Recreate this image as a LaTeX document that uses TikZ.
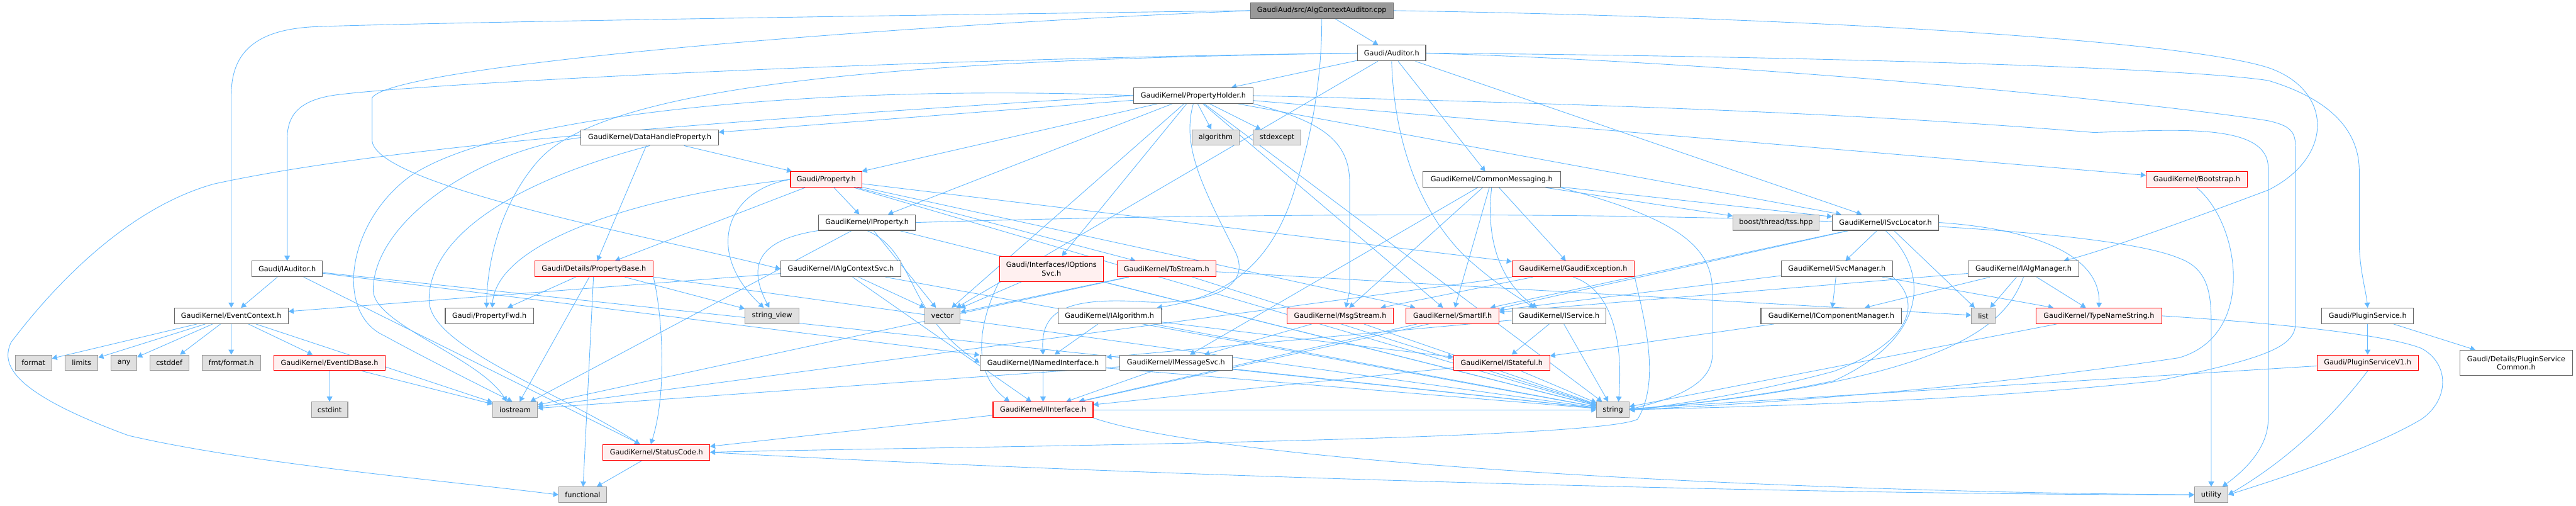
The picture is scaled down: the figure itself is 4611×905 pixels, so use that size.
\documentclass[tikz,border=0pt]{standalone}
\usepackage{fontspec}
\setmainfont{DejaVu Sans}
\usepackage{xcolor}
\usepackage{tikz}
\usetikzlibrary{arrows.meta,backgrounds}
\definecolor{edgeblue}{HTML}{63B8FF}
\definecolor{boxline}{HTML}{666666}
\definecolor{sysfill}{HTML}{E0E0E0}
\definecolor{sysline}{HTML}{999999}
\definecolor{redfill}{HTML}{FFF0F0}
\definecolor{redline}{HTML}{FF0000}
\definecolor{rootfill}{HTML}{999999}
\newcommand{\dxfont}{\fontsize{12.7}{15}\selectfont}

\begin{document}
\begin{tikzpicture}[
  x=1pt, y=-1pt,
  hdr/.style={draw=boxline, fill=white, line width=1.2pt, minimum height=28pt,
              inner sep=2pt, align=center, font=\dxfont},
  redh/.style={hdr, draw=redline, fill=redfill},
  sysh/.style={hdr, draw=sysline, fill=sysfill},
  rooth/.style={hdr, draw=boxline, fill=rootfill},
  arr/.style={draw=edgeblue, line width=1pt, -{Triangle[length=9pt,width=10pt]}},
]
\useasboundingbox (0,0) rectangle (4611,905);

% Row 1 -- source file
\node[rooth, minimum width=256pt] (root) at (2366,19) {GaudiAud/src/AlgContextAuditor.cpp};

% Row 2-3
\node[hdr, minimum width=122pt] (auditor) at (2491,95) {Gaudi/Auditor.h};
\node[hdr, minimum width=213pt] (propholder) at (2136,171) {GaudiKernel/PropertyHolder.h};

% Row 4
\node[hdr, minimum width=246pt] (dhprop) at (1163,246) {GaudiKernel/DataHandleProperty.h};
\node[sysh, minimum width=85pt] (algorithmh) at (2176,246) {algorithm};
\node[sysh, minimum width=86pt] (stdexcepth) at (2286,246) {stdexcept};

% Row 5
\node[redh, minimum width=128pt] (property) at (1479,321) {Gaudi/Property.h};
\node[hdr, minimum width=246pt] (commonmsg) at (2670,321) {GaudiKernel/CommonMessaging.h};
\node[redh, minimum width=181pt] (bootstrap) at (3932,321) {GaudiKernel/Bootstrap.h};

% Row 6
\node[hdr, minimum width=174pt] (iproperty) at (1552,398) {GaudiKernel/IProperty.h};
\node[sysh, minimum width=154pt] (tss) at (3179,398) {boost/thread/tss.hpp};
\node[hdr, minimum width=190pt] (svcloc) at (3375,398) {GaudiKernel/ISvcLocator.h};

% Row 7
\node[hdr, minimum width=126pt] (iauditor) at (514,481) {Gaudi/IAuditor.h};
\node[redh, minimum width=212pt] (propbase) at (1063,481) {Gaudi/Details/PropertyBase.h};
\node[hdr, minimum width=215pt] (algctxsvc) at (1505,481) {GaudiKernel/IAlgContextSvc.h};
\node[redh, minimum width=186pt, minimum height=45pt] (optsvc) at (1882,481) {Gaudi/Interfaces/IOptions\\Svc.h};
\node[redh, minimum width=177pt] (tostream) at (2088,481) {GaudiKernel/ToStream.h};
\node[redh, minimum width=219pt] (gexcept) at (2816,481) {GaudiKernel/GaudiException.h};
\node[hdr, minimum width=199pt] (svcmgr) at (3288,481) {GaudiKernel/ISvcManager.h};
\node[hdr, minimum width=198pt] (algmgr) at (3622,481) {GaudiKernel/IAlgManager.h};

% Row 8
\node[hdr, minimum width=204pt] (evtctx) at (414,565) {GaudiKernel/EventContext.h};
\node[hdr, minimum width=158pt] (propfwd) at (876,565) {Gaudi/PropertyFwd.h};
\node[sysh, minimum width=97pt] (strview) at (1382,565) {string\_view};
\node[sysh, minimum width=63pt] (vectorh) at (1687,565) {vector};
\node[hdr, minimum width=185pt] (ialg) at (1986,565) {GaudiKernel/IAlgorithm.h};
\node[redh, minimum width=190pt] (msgstream) at (2399,565) {GaudiKernel/MsgStream.h};
\node[redh, minimum width=166pt] (smartif) at (2600,565) {GaudiKernel/SmartIF.h};
\node[hdr, minimum width=168pt] (iservice) at (2791,565) {GaudiKernel/IService.h};
\node[hdr, minimum width=252pt] (compmgr) at (3278,565) {GaudiKernel/IComponentManager.h};
\node[sysh, minimum width=42pt] (listh) at (3550,565) {list};
\node[redh, minimum width=225pt] (typename) at (3757,565) {GaudiKernel/TypeNameString.h};
\node[hdr, minimum width=164pt] (plugsvc) at (4238,565) {Gaudi/PluginService.h};

% Row 9
\node[sysh, minimum width=65pt] (formath) at (60,649) {format};
\node[sysh, minimum width=59pt] (limitsh) at (146,649) {limits};
\node[sysh, minimum width=46pt] (anyh) at (222,649) {any};
\node[sysh, minimum width=70pt] (cstddefh) at (303,649) {cstddef};
\node[sysh, minimum width=105pt] (fmtformat) at (414,649) {fmt/format.h};
\node[redh, minimum width=200pt] (evtidbase) at (590,649) {GaudiKernel/EventIDBase.h};
\node[hdr, minimum width=226pt] (namedif) at (1867,649) {GaudiKernel/INamedInterface.h};
\node[hdr, minimum width=201pt] (msgsvc) at (2105,649) {GaudiKernel/IMessageSvc.h};
\node[redh, minimum width=172pt] (istateful) at (2688,649) {GaudiKernel/IStateful.h};
\node[redh, minimum width=181pt] (plugsvcv1) at (4238,649) {Gaudi/PluginServiceV1.h};
\node[hdr, minimum width=202pt, minimum height=45pt] (plugcommon) at (4504,649) {Gaudi/Details/PluginService\\Common.h};

% Row 10
\node[sysh, minimum width=65pt] (cstdinth) at (590,733) {cstdint};
\node[sysh, minimum width=80pt] (iostreamh) at (922,733) {iostream};
\node[redh, minimum width=179pt] (iinterface) at (1867,733) {GaudiKernel/IInterface.h};
\node[sysh, minimum width=58pt] (stringh) at (2887,733) {string};

% Row 11-12
\node[redh, minimum width=191pt] (statuscode) at (1175,809) {GaudiKernel/StatusCode.h};
\node[sysh, minimum width=86pt] (functionalh) at (1043,885) {functional};
\node[sysh, minimum width=60pt] (utilityh) at (3958,885) {utility};

\begin{scope}[on background layer]
% Connections (straight)
\foreach \s/\t in {root/auditor,
  auditor/propholder, auditor/commonmsg, auditor/svcloc, auditor/vectorh,
  propholder/algorithmh, propholder/stdexcepth, propholder/optsvc, propholder/dhprop,
  propholder/property, propholder/iproperty, propholder/bootstrap, propholder/svcloc,
  propholder/stringh, propholder/smartif, propholder/vectorh,
  dhprop/property, dhprop/propbase,
  property/iproperty, property/propbase, property/tostream, property/gexcept,
  property/smartif, property/stringh,
  iproperty/vectorh, iproperty/iostreamh, iproperty/stringh,
  iauditor/evtctx, iauditor/namedif, iauditor/stringh, iauditor/statuscode,
  evtctx/formath, evtctx/limitsh, evtctx/anyh, evtctx/cstddefh, evtctx/fmtformat,
  evtctx/evtidbase, evtctx/iostreamh,
  evtidbase/cstdinth, evtidbase/iostreamh,
  propbase/propfwd, propbase/iostreamh, propbase/functionalh, propbase/strview, propbase/stringh,
  algctxsvc/evtctx, algctxsvc/vectorh, algctxsvc/iinterface, algctxsvc/stringh,
  optsvc/vectorh, optsvc/stringh,
  tostream/iostreamh, tostream/vectorh, tostream/stringh, tostream/listh,
  gexcept/msgstream, gexcept/iostreamh,
  svcloc/svcmgr, svcloc/smartif, svcloc/iinterface, svcloc/listh,
  svcmgr/compmgr, svcmgr/smartif, svcmgr/typename,
  algmgr/listh, algmgr/typename, algmgr/compmgr, algmgr/smartif,
  commonmsg/msgstream, commonmsg/msgsvc, commonmsg/smartif, commonmsg/gexcept,
  commonmsg/tss, commonmsg/svcloc,
  ialg/namedif, ialg/istateful, ialg/stringh,
  msgstream/msgsvc, msgstream/stringh,
  smartif/iinterface,
  iservice/istateful, iservice/stringh, iservice/namedif,
  compmgr/istateful,
  istateful/iinterface, istateful/stringh,
  namedif/iinterface, namedif/stringh,
  msgsvc/iinterface, msgsvc/stringh, msgsvc/iostreamh,
  iinterface/statuscode, iinterface/stringh,
  statuscode/functionalh,
  typename/stringh,
  plugsvc/plugsvcv1, plugsvc/plugcommon,
  plugsvcv1/stringh}
  { \draw[arr] (\s) -- (\t); }

% Connections (routed)
\draw[arr] (root.west) .. controls (1400,30) and (700,42) .. (560,48) .. controls (450,54) and (414,100) .. (414,170) -- (evtctx.north);
\draw[arr] (root.west) .. controls (1500,50) and (700,120) .. (666,175) -- (666,250) .. controls (666,330) and (1150,420) .. (algctxsvc.west);
\draw[arr] (root.east) .. controls (3200,30) and (3900,70) .. (4060,121) .. controls (4175,160) and (4180,280) .. (4060,340) .. controls (3900,400) and (3760,450) .. ([xshift=72pt]algmgr.north);
\draw[arr] (root.south) .. controls (2366,150) and (2345,250) .. (2320,330) .. controls (2280,470) and (2200,530) .. ([xshift=85pt]ialg.north);

\draw[arr] (auditor.west) .. controls (1600,105) and (750,150) .. (600,170) .. controls (530,180) and (514,210) .. (514,250) -- (iauditor.north);
\draw[arr] (auditor.west) .. controls (1800,105) and (1100,130) .. (963,288) .. controls (900,360) and (872,460) .. ([xshift=-5pt]propfwd.north);
\draw[arr] (auditor.south) .. controls (2495,250) and (2540,380) .. (2626,462) .. controls (2680,510) and (2715,530) .. ([xshift=-45pt]iservice.north);
\draw[arr] (auditor.east) .. controls (3200,100) and (3900,120) .. (4060,144) .. controls (4180,180) and (4223,240) .. (4223,306) -- (4223,433) .. controls (4223,480) and (4235,520) .. (plugsvc.north);
\draw[arr] (auditor.east) .. controls (3200,115) and (3900,190) .. (4060,216) .. controls (4100,225) and (4109,235) .. (4109,265) -- (4109,577) .. controls (4109,620) and (4060,640) .. (3863,681) .. controls (3500,720) and (3100,728) .. (stringh.east);

\draw[arr] (propholder.south east) .. controls (2380,220) and (2416,260) .. (2416,330) -- (2416,520) -- ([xshift=10pt]msgstream.north);
\draw[arr] (propholder.south) .. controls (2115,260) and (2150,330) .. (2211,450) .. controls (2245,520) and (2150,545) .. (2050,540) .. controls (1900,530) and (1863,560) .. (namedif.north);
\draw[arr] (propholder.west) .. controls (1300,215) and (700,260) .. (383,329) .. controls (200,380) and (60,560) .. (20,612) .. controls (2,650) and (15,700) .. (230,779) .. controls (450,830) and (800,860) .. (functionalh.west);
\draw[arr] (propholder.west) .. controls (1500,150) and (900,200) .. (733,316) .. controls (620,400) and (600,560) .. (687,600) .. controls (760,640) and (860,690) .. ([xshift=-5pt]iostreamh.north);
\draw[arr] (propholder.east) .. controls (2800,185) and (3300,200) .. (3748,237) .. controls (3900,232) and (4060,220) .. (4060,300) -- (4060,750) .. controls (4060,800) and (4020,840) .. ([xshift=20pt]utilityh.north);

\draw[arr] (dhprop.west) .. controls (850,270) and (668,400) .. (668,519) .. controls (668,580) and (860,640) .. ([xshift=-15pt]iostreamh.north);
\draw[arr] (dhprop.south) .. controls (900,330) and (768,430) .. (768,537) .. controls (768,620) and (1000,700) .. ([xshift=-30pt]statuscode.north);

\draw[arr] (property.west) .. controls (1150,350) and (890,430) .. ([xshift=5pt]propfwd.north);
\draw[arr] (property.west) .. controls (1300,340) and (1260,450) .. ([xshift=-15pt]strview.north);

\draw[arr] (iproperty.south west) .. controls (1350,430) and (1340,480) .. ([xshift=-5pt]strview.north);
\draw[arr] (iproperty.south) .. controls (1640,450) and (1620,560) .. (namedif.west);
\draw[arr] (iproperty.east) .. controls (2500,372) and (3700,378) .. (3901,462) .. controls (3950,480) and (3958,520) .. (3958,577) -- (utilityh.north);

\draw[arr] (propbase.south east) .. controls (1185,560) and (1195,700) .. ([xshift=-10pt]statuscode.north);
\draw[arr] (optsvc.south west) .. controls (1760,560) and (1730,660) .. ([xshift=-60pt]iinterface.north);

\draw[arr] (gexcept.south east) .. controls (2940,560) and (2975,680) .. (2931,750) .. controls (2850,790) and (1600,800) .. (statuscode.east);
\draw[arr] (gexcept.south) .. controls (2890,520) and (2905,620) .. ([xshift=10pt]stringh.north);

\draw[arr] (svcloc.south) .. controls (3450,480) and (3460,600) .. (3283,681) .. controls (3150,710) and (3000,725) .. (stringh.east);
\draw[arr] (svcloc.east) .. controls (3650,410) and (3760,460) .. (typename.north);
\draw[arr] (svcmgr.south east) .. controls (3440,540) and (3425,610) .. (3283,664) .. controls (3150,700) and (3000,725) .. (stringh.east);
\draw[arr] (algmgr.south) .. controls (3590,580) and (3500,680) .. (stringh.east);

\draw[arr] (commonmsg.south) .. controls (2660,420) and (2680,500) .. ([xshift=-40pt]iservice.north);
\draw[arr] (commonmsg.south east) .. controls (3000,390) and (3065,440) .. (3065,520) -- (3065,635) .. controls (3065,700) and (2960,720) .. (stringh.east);

\draw[arr] (typename.east) .. controls (3950,570) and (4250,590) .. (4334,623) .. controls (4385,650) and (4385,715) .. (4334,750) .. controls (4250,800) and (4100,850) .. (utilityh.east);
\draw[arr] (bootstrap.south) .. controls (4010,400) and (4040,600) .. (3900,640) .. controls (3500,700) and (3100,725) .. (stringh.east);
\draw[arr] (plugsvcv1.south) .. controls (4180,740) and (4100,820) .. (utilityh.east);

\draw[arr] (iinterface.south east) .. controls (2200,830) and (3200,880) .. (utilityh.west);
\draw[arr] (statuscode.east) .. controls (2000,850) and (3200,885) .. (utilityh.west);
\end{scope}
\end{tikzpicture}
\end{document}
